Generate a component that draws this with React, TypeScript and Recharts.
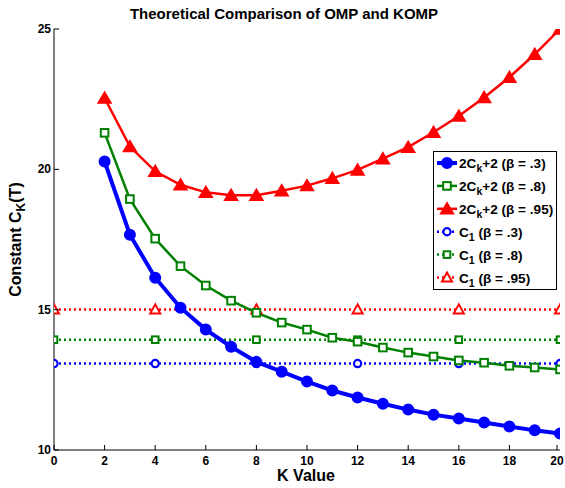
import { LineChart, Line, XAxis, YAxis, Legend } from 'recharts';

const kValues = [2, 3, 4, 5, 6, 7, 8, 9, 10, 11, 12, 13, 14, 15, 16, 17, 18, 19, 20];
const beta03 = [20.28, 17.67, 16.14, 15.07, 14.29, 13.68, 13.14, 12.79, 12.44, 12.12, 11.87, 11.65, 11.44, 11.26, 11.12, 10.98, 10.84, 10.7, 10.59];
const beta08 = [21.3, 18.94, 17.53, 16.55, 15.86, 15.32, 14.89, 14.54, 14.29, 14.0, 13.86, 13.65, 13.47, 13.33, 13.19, 13.11, 13.0, 12.94, 12.87];
const beta095 = [22.54, 20.81, 19.93, 19.45, 19.18, 19.08, 19.08, 19.24, 19.42, 19.68, 19.98, 20.38, 20.79, 21.32, 21.9, 22.56, 23.28, 24.1, 25.0];

const c1K = [0, 4, 8, 12, 16, 20];
const c1Beta03 = 13.08;
const c1Beta08 = 13.93;
const c1Beta095 = 15.01;

const xTicks = [0, 2, 4, 6, 8, 10, 12, 14, 16, 18, 20];
const yTicks = [10, 15, 20, 25];

const BLUE = '#0000ff';
const GREEN = '#008000';
const RED = '#ff0000';
const FONT = 'Liberation Sans, Arial, sans-serif';

const solid = (vals: number[]) => kValues.map((k, i) => ({ k, v: vals[i] }));
const flat = (v: number) => c1K.map((k) => ({ k, v }));

function Marker({ cx, cy, shape, color, hollow }: any) {
  if (cx == null || cy == null) return null;
  if (shape === 'circle') {
    if (hollow) return <circle cx={cx} cy={cy} r={3.6} fill="#fff" stroke={color} strokeWidth={2.2} />;
    return <circle cx={cx} cy={cy} r={5} fill={color} stroke={color} strokeWidth={2} />;
  }
  if (shape === 'square') {
    const h = hollow ? 3.3 : 3.8;
    return <rect x={cx - h} y={cy - h} width={h * 2} height={h * 2} fill="#fff" stroke={color} strokeWidth={2} />;
  }
  if (hollow)
    return (
      <polygon
        points={`${cx},${cy - 5} ${cx - 5},${cy + 4} ${cx + 5},${cy + 4}`}
        fill="#fff"
        stroke={color}
        strokeWidth={2}
      />
    );
  return (
    <polygon
      points={`${cx},${cy - 6} ${cx - 6.5},${cy + 5} ${cx + 6.5},${cy + 5}`}
      fill={color}
      stroke={color}
      strokeWidth={1.5}
    />
  );
}

const dot = (shape: string, color: string, hollow = false) => (p: any) => (
  <Marker key={`${shape}-${hollow}-${p.index}`} cx={p.cx} cy={p.cy} shape={shape} color={color} hollow={hollow} />
);

function BottomTick({ x, y, payload }: any) {
  return (
    <g>
      <line x1={x} y1={y} x2={x} y2={y - 5} stroke="#000" strokeWidth={1} />
      <text x={x} y={y + 15} textAnchor="middle" fontFamily={FONT} fontWeight="bold" fontSize={12} fill="#000">
        {payload.value}
      </text>
    </g>
  );
}
function TopTick({ x, y }: any) {
  return <line x1={x} y1={y} x2={x} y2={y + 5} stroke="#000" strokeWidth={1} />;
}
function LeftTick({ x, y, payload }: any) {
  return (
    <g>
      <line x1={x} y1={y} x2={x + 5} y2={y} stroke="#000" strokeWidth={1} />
      <text x={x - 3} y={y + 4} textAnchor="end" fontFamily={FONT} fontWeight="bold" fontSize={12} fill="#000">
        {payload.value}
      </text>
    </g>
  );
}
function RightTick({ x, y }: any) {
  return <line x1={x} y1={y} x2={x - 5} y2={y} stroke="#000" strokeWidth={1} />;
}

const legendRows = [
  { main: true, beta: '.3', color: BLUE, shape: 'circle', hollow: false, w: 4 },
  { main: true, beta: '.8', color: GREEN, shape: 'square', hollow: false, w: 2.5 },
  { main: true, beta: '.95', color: RED, shape: 'triangle', hollow: false, w: 2.5 },
  { main: false, beta: '.3', color: BLUE, shape: 'circle', hollow: true, w: 2.5 },
  { main: false, beta: '.8', color: GREEN, shape: 'square', hollow: true, w: 2.5 },
  { main: false, beta: '.95', color: RED, shape: 'triangle', hollow: true, w: 2.5 },
];

function LegendBox() {
  return (
    <svg width={125} height={140} style={{ display: 'block' }}>
      <rect x={0.5} y={0.5} width={123} height={138} fill="#fff" stroke="#000" strokeWidth={1} />
      {legendRows.map((r, i) => {
        const y = 12 + i * 22.9;
        return (
          <g key={i}>
            <line x1={4} x2={24} y1={y} y2={y} stroke={r.color} strokeWidth={r.w} strokeDasharray={r.main ? undefined : '2 3'} />
            <Marker cx={14} cy={y} shape={r.shape} color={r.color} hollow={r.hollow} />
            <text x={26} y={y + 5} fontFamily={FONT} fontWeight="bold" fontSize={13.6} fill="#000">
              {r.main ? '2C' : 'C'}
              <tspan fontSize={10.5} dy={4}>{r.main ? 'k' : '1'}</tspan>
              <tspan dy={-4}>{r.main ? '+2 (β = ' + r.beta + ')' : ' (β = ' + r.beta + ')'}</tspan>
            </text>
          </g>
        );
      })}
    </svg>
  );
}

export default function App() {
  return (
    <div style={{ position: 'absolute', left: 0, top: 0, width: 565, height: 488, background: '#fff' }}>
      <LineChart width={565} height={488} margin={{ top: 29, right: 5, bottom: 0, left: 0 }}>
        <XAxis
          xAxisId="b"
          dataKey="k"
          type="number"
          domain={[0, 20]}
          ticks={xTicks}
          allowDataOverflow
          height={38}
          tickSize={0}
          tickMargin={0}
          tickLine={false}
          axisLine={{ stroke: '#000', strokeWidth: 1 }}
          tick={<BottomTick />}
        />
        <XAxis
          xAxisId="t"
          orientation="top"
          dataKey="k"
          type="number"
          domain={[0, 20]}
          ticks={xTicks}
          allowDataOverflow
          height={0}
          tickSize={0}
          tickMargin={0}
          tickLine={false}
          axisLine={{ stroke: '#000', strokeWidth: 1 }}
          tick={<TopTick />}
        />
        <YAxis
          yAxisId="l"
          type="number"
          domain={[10, 25]}
          ticks={yTicks}
          allowDataOverflow
          width={54}
          tickSize={0}
          tickMargin={0}
          tickLine={false}
          axisLine={{ stroke: '#000', strokeWidth: 1 }}
          tick={<LeftTick />}
          label={{
            value: 'Constant C',
            content: ({ viewBox }: any) => (
              <text
                x={21}
                y={viewBox.y + viewBox.height / 2}
                transform={`rotate(-90 21 ${viewBox.y + viewBox.height / 2})`}
                textAnchor="middle"
                fontFamily={FONT}
                fontWeight="bold"
                fontSize={16}
                fill="#000"
              >
                Constant C<tspan fontSize={12} dy={4}>K</tspan>
                <tspan dy={-4}>(T)</tspan>
              </text>
            ),
          }}
        />
        <YAxis
          yAxisId="r"
          orientation="right"
          type="number"
          domain={[10, 25]}
          ticks={yTicks}
          allowDataOverflow
          width={0}
          tickSize={0}
          tickMargin={0}
          tickLine={false}
          axisLine={{ stroke: '#000', strokeWidth: 1 }}
          tick={<RightTick />}
        />
        <text x={284} y={19} textAnchor="middle" fontFamily={FONT} fontWeight="bold" fontSize={15} fill="#000">
          Theoretical Comparison of OMP and KOMP
        </text>
        <text x={306} y={481} textAnchor="middle" fontFamily={FONT} fontWeight="bold" fontSize={16} fill="#000">
          K Value
        </text>

        <Line xAxisId="b" yAxisId="l" data={flat(c1Beta03)} dataKey="v" stroke={BLUE} strokeWidth={2.5} strokeDasharray="2 3" dot={dot('circle', BLUE, true)} isAnimationActive={false} />
        <Line xAxisId="b" yAxisId="l" data={flat(c1Beta08)} dataKey="v" stroke={GREEN} strokeWidth={2.5} strokeDasharray="2 3" dot={dot('square', GREEN, true)} isAnimationActive={false} />
        <Line xAxisId="b" yAxisId="l" data={flat(c1Beta095)} dataKey="v" stroke={RED} strokeWidth={2.5} strokeDasharray="2 3" dot={dot('triangle', RED, true)} isAnimationActive={false} />
        <Line xAxisId="b" yAxisId="l" data={solid(beta095)} dataKey="v" stroke={RED} strokeWidth={2.5} dot={dot('triangle', RED)} isAnimationActive={false} />
        <Line xAxisId="b" yAxisId="l" data={solid(beta08)} dataKey="v" stroke={GREEN} strokeWidth={2.5} dot={dot('square', GREEN)} isAnimationActive={false} />
        <Line xAxisId="b" yAxisId="l" data={solid(beta03)} dataKey="v" stroke={BLUE} strokeWidth={4} dot={dot('circle', BLUE)} isAnimationActive={false} />

        <Legend
          layout="vertical"
          align="center"
          verticalAlign="middle"
          wrapperStyle={{ left: 433, top: 151, width: 125, height: 140 }}
          content={() => <LegendBox />}
        />
      </LineChart>
    </div>
  );
}
